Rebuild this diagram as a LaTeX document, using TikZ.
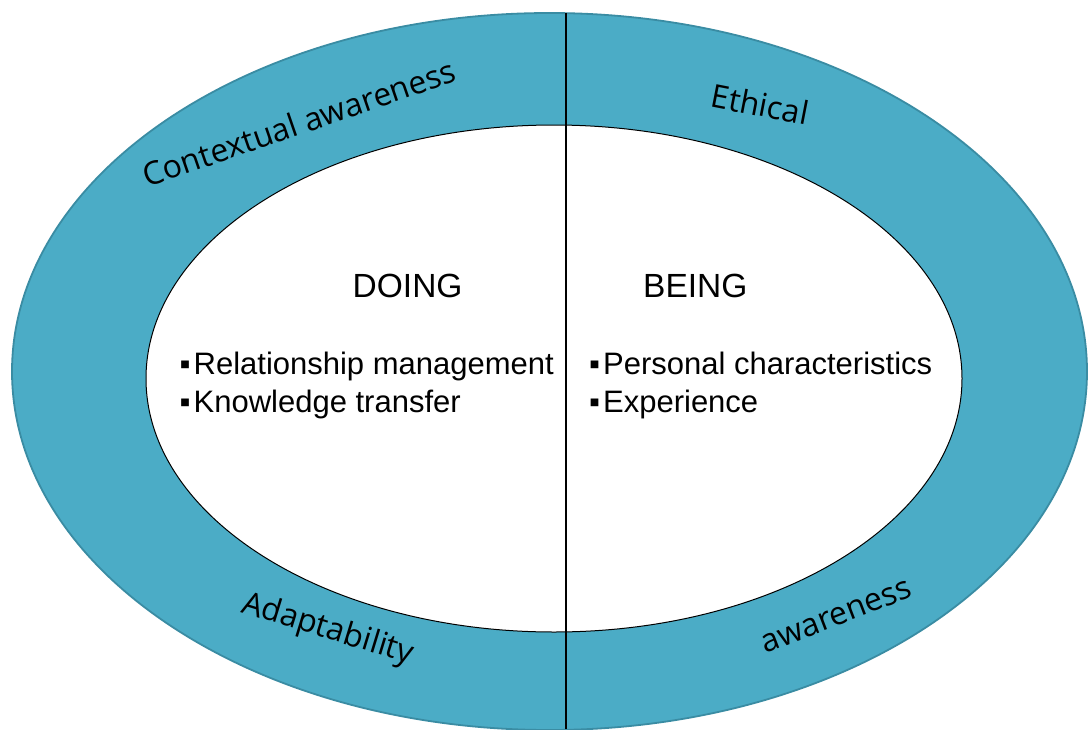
\documentclass[tikz,border=0pt]{standalone}
\usepackage{fontspec}
\setmainfont{Liberation Sans}
\newfontfamily\bandfont{Open Sans}
\definecolor{band}{HTML}{4BACC6}
\definecolor{bandedge}{HTML}{3A8CA3}
\newcommand{\itembullet}{\char"25AA\hspace{3pt}}
\tikzset{
  bandlabel/.style={inner sep=0pt, anchor=base, font=\bandfont\fontsize{32}{38}\selectfont},
  headlabel/.style={inner sep=0pt, anchor=base west, font=\fontsize{33.5}{38}\selectfont},
  itemlabel/.style={inner sep=0pt, anchor=base west, font=\fontsize{31}{37}\selectfont},
}
\begin{document}
\begin{tikzpicture}[x=1pt,y=-1pt]
\useasboundingbox (0,0) rectangle (1088,729);
\clip (0,0) rectangle (1088,729);
% outer band
\fill[band, draw=bandedge, line width=1.8pt] (549.5,371.5) ellipse [x radius=537.5, y radius=358.5];
% inner ellipse
\fill[white, draw=black, line width=1pt] (554,378.5) ellipse [x radius=408, y radius=253.5];
% divider
\coordinate (ltop) at (566,13);
\coordinate (lbot) at (566,729);
\draw[black, line width=2.6pt] (ltop) -- (lbot);
% band labels
\node[bandlabel, rotate=19] (ctx) at (303,134) {Contextual awareness};
\node[bandlabel, rotate=-11] (eth) at (758,116) {Ethical};
\node[bandlabel, rotate=-17] (adp) at (325,638) {Adaptability};
\node[bandlabel, rotate=21] (awr) at (840,625) {awareness};
% headings
\node[headlabel] (doing) at (352.5,297) {DOING};
\node[headlabel] (being) at (643,297) {BEING};
% items
\node[itemlabel] (rel) at (179.5,374) {\itembullet Relationship management};
\node[itemlabel] (kno) at (179.5,412) {\itembullet Knowledge transfer};
\node[itemlabel] (per) at (589,374) {\itembullet Personal characteristics};
\node[itemlabel] (exp) at (589,412) {\itembullet Experience};
\end{tikzpicture}
\end{document}
